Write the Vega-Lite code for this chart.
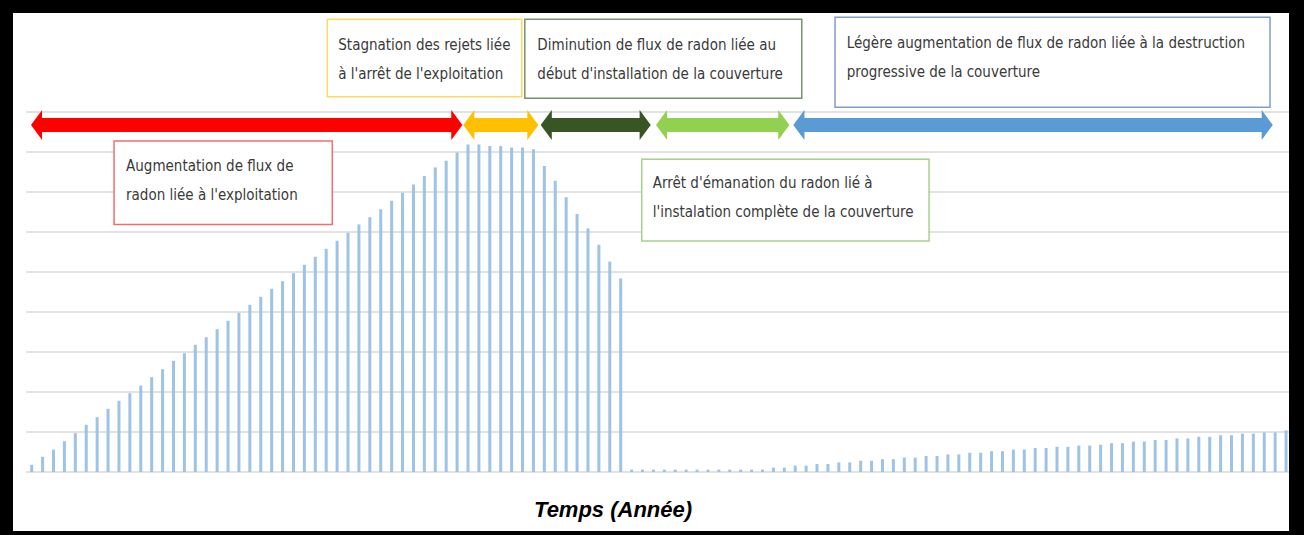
{
  "$schema": "https://vega.github.io/schema/vega-lite/v6.json",
  "width": 1276,
  "height": 518,
  "autosize": {"type": "none"},
  "padding": {"left": 13, "top": 13, "right": 15, "bottom": 4},
  "background": "#000000",
  "config": {"view": {"fill": "#ffffff", "stroke": null}},
  "datasets": {
    "grid": [{"g": 0}, {"g": 1}, {"g": 2}, {"g": 3}, {"g": 4}, {"g": 5}, {"g": 6}, {"g": 7}, {"g": 8}, {"g": 9}],
    "flux": [
      {"t": 0, "flux": 0.18}, {"t": 1, "flux": 0.38}, {"t": 2, "flux": 0.56}, {"t": 3, "flux": 0.77},
      {"t": 4, "flux": 0.97}, {"t": 5, "flux": 1.18}, {"t": 6, "flux": 1.37}, {"t": 7, "flux": 1.58},
      {"t": 8, "flux": 1.78}, {"t": 9, "flux": 1.97}, {"t": 10, "flux": 2.16}, {"t": 11, "flux": 2.37},
      {"t": 12, "flux": 2.57}, {"t": 13, "flux": 2.78}, {"t": 14, "flux": 2.97}, {"t": 15, "flux": 3.18},
      {"t": 16, "flux": 3.37}, {"t": 17, "flux": 3.57}, {"t": 18, "flux": 3.78}, {"t": 19, "flux": 3.98},
      {"t": 20, "flux": 4.18}, {"t": 21, "flux": 4.38}, {"t": 22, "flux": 4.58}, {"t": 23, "flux": 4.77},
      {"t": 24, "flux": 4.97}, {"t": 25, "flux": 5.18}, {"t": 26, "flux": 5.38}, {"t": 27, "flux": 5.58},
      {"t": 28, "flux": 5.78}, {"t": 29, "flux": 5.98}, {"t": 30, "flux": 6.19}, {"t": 31, "flux": 6.37},
      {"t": 32, "flux": 6.57}, {"t": 33, "flux": 6.78}, {"t": 34, "flux": 6.98}, {"t": 35, "flux": 7.19},
      {"t": 36, "flux": 7.40}, {"t": 37, "flux": 7.61}, {"t": 38, "flux": 7.78}, {"t": 39, "flux": 7.99},
      {"t": 40, "flux": 8.19}, {"t": 41, "flux": 8.19}, {"t": 42, "flux": 8.15}, {"t": 43, "flux": 8.15},
      {"t": 44, "flux": 8.11}, {"t": 45, "flux": 8.11}, {"t": 46, "flux": 8.07}, {"t": 47, "flux": 7.65},
      {"t": 48, "flux": 7.28}, {"t": 49, "flux": 6.87}, {"t": 50, "flux": 6.45}, {"t": 51, "flux": 6.09},
      {"t": 52, "flux": 5.68}, {"t": 53, "flux": 5.26}, {"t": 54, "flux": 4.84},
      {"t": 55, "flux": 0.06}, {"t": 56, "flux": 0.06}, {"t": 57, "flux": 0.06}, {"t": 58, "flux": 0.06},
      {"t": 59, "flux": 0.06}, {"t": 60, "flux": 0.06}, {"t": 61, "flux": 0.06}, {"t": 62, "flux": 0.06},
      {"t": 63, "flux": 0.06}, {"t": 64, "flux": 0.06}, {"t": 65, "flux": 0.06}, {"t": 66, "flux": 0.06},
      {"t": 67, "flux": 0.06}, {"t": 68, "flux": 0.11}, {"t": 69, "flux": 0.11}, {"t": 70, "flux": 0.16},
      {"t": 71, "flux": 0.16}, {"t": 72, "flux": 0.20}, {"t": 73, "flux": 0.20}, {"t": 74, "flux": 0.24},
      {"t": 75, "flux": 0.24}, {"t": 76, "flux": 0.28}, {"t": 77, "flux": 0.28}, {"t": 78, "flux": 0.32},
      {"t": 79, "flux": 0.32}, {"t": 80, "flux": 0.36}, {"t": 81, "flux": 0.36}, {"t": 82, "flux": 0.40},
      {"t": 83, "flux": 0.40}, {"t": 84, "flux": 0.44}, {"t": 85, "flux": 0.44}, {"t": 86, "flux": 0.48},
      {"t": 87, "flux": 0.48}, {"t": 88, "flux": 0.52}, {"t": 89, "flux": 0.52}, {"t": 90, "flux": 0.56},
      {"t": 91, "flux": 0.56}, {"t": 92, "flux": 0.60}, {"t": 93, "flux": 0.60}, {"t": 94, "flux": 0.63},
      {"t": 95, "flux": 0.63}, {"t": 96, "flux": 0.66}, {"t": 97, "flux": 0.66}, {"t": 98, "flux": 0.68},
      {"t": 99, "flux": 0.72}, {"t": 100, "flux": 0.72}, {"t": 101, "flux": 0.76}, {"t": 102, "flux": 0.76},
      {"t": 103, "flux": 0.80}, {"t": 104, "flux": 0.80}, {"t": 105, "flux": 0.84}, {"t": 106, "flux": 0.84},
      {"t": 107, "flux": 0.88}, {"t": 108, "flux": 0.88}, {"t": 109, "flux": 0.92}, {"t": 110, "flux": 0.92},
      {"t": 111, "flux": 0.96}, {"t": 112, "flux": 0.96}, {"t": 113, "flux": 0.99}, {"t": 114, "flux": 0.99},
      {"t": 115, "flux": 1.04}
    ],
    "phases": [
      {"phase": "exploitation", "start": -0.06, "end": 39.48},
      {"phase": "stagnation", "start": 39.57, "end": 46.45},
      {"phase": "diminution", "start": 46.67, "end": 56.75},
      {"phase": "arret", "start": 57.24, "end": 69.46},
      {"phase": "destruction", "start": 69.83, "end": 113.78}
    ],
    "boxes": [
      {"phase": "exploitation", "bx1": 7.55, "bx2": 27.56, "by1": 8.275, "by2": 6.19, "tx": 8.65, "ty": 7.65, "lines": ["Augmentation de flux de", "radon liée à l'exploitation"]},
      {"phase": "stagnation", "bx1": 27.10, "bx2": 44.93, "by1": 11.3175, "by2": 9.3825, "tx": 28.11, "ty": 10.675, "lines": ["Stagnation des rejets liée", "à l'arrêt de l'exploitation"]},
      {"phase": "diminution", "bx1": 45.21, "bx2": 70.60, "by1": 11.3175, "by2": 9.3425, "tx": 46.36, "ty": 10.675, "lines": ["Diminution de flux de radon liée au", "début d'installation de la couverture"]},
      {"phase": "arret", "bx1": 55.93, "bx2": 82.27, "by1": 7.8175, "by2": 5.775, "tx": 56.94, "ty": 7.2175, "lines": ["Arrêt d'émanation du radon lié à", "l'instalation complète de la couverture"]},
      {"phase": "destruction", "bx1": 73.65, "bx2": 113.53, "by1": 11.3675, "by2": 9.1175, "tx": 74.72, "ty": 10.725, "lines": ["Légère augmentation de flux de radon liée à la destruction", "progressive de la couverture"]}
    ],
    "title": [{"label": "Temps (Année)"}]
  },
  "layer": [
    {
      "data": {"name": "grid"},
      "mark": {"type": "rule", "color": "#d9d9d9", "strokeWidth": 1.5},
      "encoding": {
        "y": {"field": "g", "type": "quantitative", "scale": {"domain": [-1.475, 11.475], "nice": false, "zero": false}, "axis": null},
        "x": {"datum": -0.52, "type": "quantitative", "scale": {"domain": [-1.714, 115.27], "nice": false, "zero": false}, "axis": null},
        "x2": {"datum": 115.27}
      }
    },
    {
      "data": {"name": "flux"},
      "mark": {"type": "rule", "color": "#9dc3e6", "strokeWidth": 3, "strokeCap": "butt"},
      "encoding": {
        "x": {"field": "t", "type": "quantitative", "scale": {"domain": [-1.714, 115.27], "nice": false, "zero": false}, "axis": null},
        "y": {"field": "flux", "type": "quantitative", "scale": {"domain": [-1.475, 11.475], "nice": false, "zero": false}, "axis": null},
        "y2": {"datum": 0}
      }
    },
    {
      "data": {"name": "boxes"},
      "mark": {"type": "rect", "fill": "#ffffff", "strokeWidth": 1.5},
      "encoding": {
        "x": {"field": "bx1", "type": "quantitative", "scale": {"domain": [-1.714, 115.27], "nice": false, "zero": false}, "axis": null},
        "x2": {"field": "bx2"},
        "y": {"field": "by1", "type": "quantitative", "scale": {"domain": [-1.475, 11.475], "nice": false, "zero": false}, "axis": null},
        "y2": {"field": "by2"},
        "stroke": {"field": "phase", "type": "nominal", "legend": null, "scale": {"domain": ["exploitation", "stagnation", "diminution", "arret", "destruction"], "range": ["#f26d6d", "#ffd966", "#77926a", "#a9d18e", "#7f9ccc"]}}
      }
    },
    {
      "data": {"name": "boxes"},
      "mark": {"type": "text", "align": "left", "baseline": "middle", "font": "Liberation Sans Narrow, DejaVu Sans Condensed, sans-serif", "fontSize": 15, "lineHeight": 28.5, "color": "#3a3a3a"},
      "encoding": {
        "x": {"field": "tx", "type": "quantitative", "scale": {"domain": [-1.714, 115.27], "nice": false, "zero": false}, "axis": null},
        "y": {"field": "ty", "type": "quantitative", "scale": {"domain": [-1.475, 11.475], "nice": false, "zero": false}, "axis": null},
        "text": {"field": "lines"}
      }
    },
    {
      "data": {"name": "phases"},
      "mark": {"type": "rule", "strokeWidth": 14, "strokeCap": "butt", "xOffset": 10, "x2Offset": -10},
      "encoding": {
        "x": {"field": "start", "type": "quantitative", "scale": {"domain": [-1.714, 115.27], "nice": false, "zero": false}, "axis": null},
        "x2": {"field": "end"},
        "y": {"datum": 8.675, "type": "quantitative", "scale": {"domain": [-1.475, 11.475], "nice": false, "zero": false}, "axis": null},
        "color": {"field": "phase", "type": "nominal", "legend": null, "scale": {"domain": ["exploitation", "stagnation", "diminution", "arret", "destruction"], "range": ["#ff0000", "#ffc000", "#375623", "#92d050", "#5b9bd5"]}}
      }
    },
    {
      "data": {"name": "phases"},
      "mark": {"type": "point", "shape": "M0.37,-1L-0.37,0L0.37,1Z", "filled": true, "opacity": 1, "size": 900, "strokeWidth": 0, "xOffset": 5.5},
      "encoding": {
        "x": {"field": "start", "type": "quantitative", "scale": {"domain": [-1.714, 115.27], "nice": false, "zero": false}, "axis": null},
        "y": {"datum": 8.675, "type": "quantitative", "scale": {"domain": [-1.475, 11.475], "nice": false, "zero": false}, "axis": null},
        "color": {"field": "phase", "type": "nominal", "legend": null, "scale": {"domain": ["exploitation", "stagnation", "diminution", "arret", "destruction"], "range": ["#ff0000", "#ffc000", "#375623", "#92d050", "#5b9bd5"]}}
      }
    },
    {
      "data": {"name": "phases"},
      "mark": {"type": "point", "shape": "M-0.37,-1L0.37,0L-0.37,1Z", "filled": true, "opacity": 1, "size": 900, "strokeWidth": 0, "xOffset": -5.5},
      "encoding": {
        "x": {"field": "end", "type": "quantitative", "scale": {"domain": [-1.714, 115.27], "nice": false, "zero": false}, "axis": null},
        "y": {"datum": 8.675, "type": "quantitative", "scale": {"domain": [-1.475, 11.475], "nice": false, "zero": false}, "axis": null},
        "color": {"field": "phase", "type": "nominal", "legend": null, "scale": {"domain": ["exploitation", "stagnation", "diminution", "arret", "destruction"], "range": ["#ff0000", "#ffc000", "#375623", "#92d050", "#5b9bd5"]}}
      }
    },
    {
      "data": {"name": "title"},
      "mark": {"type": "text", "align": "center", "baseline": "middle", "font": "Liberation Sans, sans-serif", "fontSize": 22, "fontWeight": "bold", "fontStyle": "italic", "color": "#000000"},
      "encoding": {
        "x": {"datum": 53.3, "type": "quantitative", "scale": {"domain": [-1.714, 115.27], "nice": false, "zero": false}, "axis": null},
        "y": {"datum": -0.95, "type": "quantitative", "scale": {"domain": [-1.475, 11.475], "nice": false, "zero": false}, "axis": null},
        "text": {"field": "label"}
      }
    }
  ]
}
